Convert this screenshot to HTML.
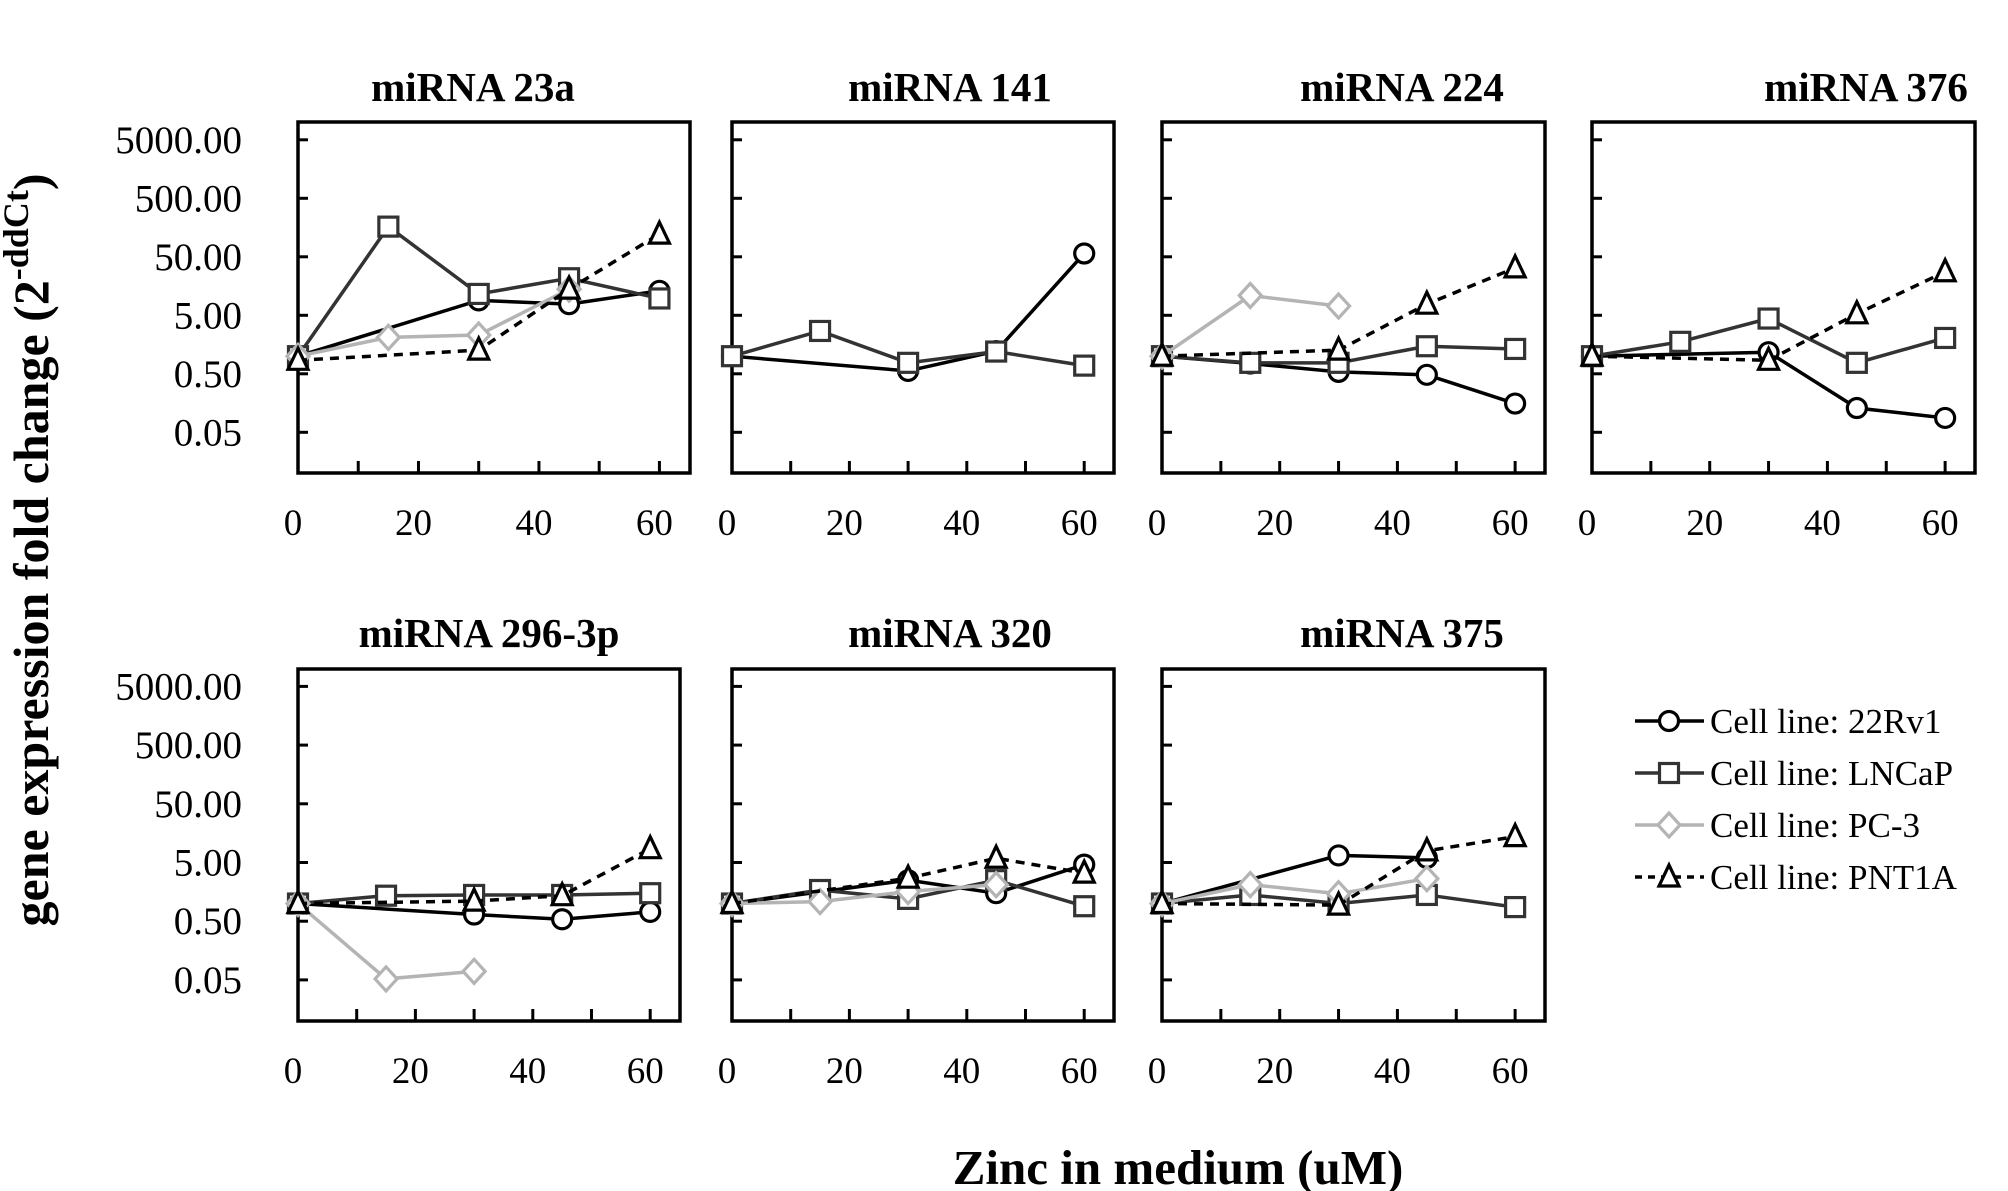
<!DOCTYPE html>
<html><head><meta charset="utf-8"><style>
html,body{margin:0;padding:0;background:#fff;}
svg{display:block;font-family:"Liberation Serif",serif;}
</style></head><body>
<svg id="chart" width="2008" height="1191" viewBox="0 0 2008 1191">
<text x="48" y="550" transform="rotate(-90 48 550)" text-anchor="middle" font-size="50" font-weight="bold">gene expression fold change (2<tspan dy="-20" font-size="36">-ddCt</tspan><tspan dy="20">)</tspan></text>
<text x="1178" y="1184" text-anchor="middle" font-size="49" font-weight="bold">Zinc in medium (uM)</text>
</svg>
<script>
const xTicks = [0, 20, 40, 60];
const yTicks = [5000, 500, 50, 5, 0.5, 0.05];
const yTickLabels = ["5000.00", "500.00", "50.00", "5.00", "0.50", "0.05"];
const zinc = [0, 15, 30, 45, 60];
const seriesNames = ["Cell line: 22Rv1", "Cell line: LNCaP", "Cell line: PC-3", "Cell line: PNT1A"];
const titles = ["miRNA 23a", "miRNA 141", "miRNA 224", "miRNA 376", "miRNA 296-3p", "miRNA 320", "miRNA 375"];
// values per panel: [22Rv1, LNCaP, PC-3, PNT1A]
const v22Rv1 = [
  [1, null, 9.0, 7.75, 13.1],
  [1, null, 0.56, 1.22, 57],
  [1, 0.75, 0.54, 0.48, 0.155],
  [1, null, 1.17, 0.13, 0.088],
  [1, null, 0.65, 0.54, 0.72],
  [1, null, 2.5, 1.5, 4.6],
  [1, null, 6.6, 6.0, null]
];
const vLNCaP = [
  [1, 164, 11.6, 21.5, 9.7],
  [1, 2.7, 0.77, 1.2, 0.69],
  [1, 0.77, 0.77, 1.48, 1.33],
  [1, 1.76, 4.4, 0.77, 2.05],
  [1, 1.36, 1.4, 1.4, 1.5],
  [1, 1.7, 1.2, 2.5, 0.9],
  [1, 1.4, 1.0, 1.4, 0.87]
];
const vPC3 = [
  [1, 2.1, 2.3, 14, null],
  [null, null, null, null, null],
  [1, 10.9, 7.2, null, null],
  [null, null, null, null, null],
  [1, 0.052, 0.07, null, null],
  [1, 1.08, 1.6, 2.1, null],
  [1, 2.1, 1.47, 2.65, null]
];
const vPNT1A = [
  [0.85, null, 1.27, 14, 122],
  [null, null, null, null, null],
  [1, null, 1.27, 7.75, 32.3],
  [1, null, 0.85, 5.3, 27.8],
  [1, null, 1.1, 1.36, 8.6],
  [1, null, 2.7, 5.9, 3.3],
  [1, null, 0.94, 7.9, 13.8]
];

const NS = "http://www.w3.org/2000/svg";
const svg = document.getElementById('chart');
function mk(tag, attrs, parent) {
  const e = document.createElementNS(NS, tag);
  for (const k in attrs) e.setAttribute(k, attrs[k]);
  (parent || svg).appendChild(e);
  return e;
}
const panels = [
  {l:298, r:690, t:122, b:473, y5:315.3, dec:58.5, tx:473, ty:101},
  {l:732, r:1114, t:122, b:473, y5:315.3, dec:58.5, tx:950, ty:101},
  {l:1162, r:1545, t:122, b:473, y5:315.3, dec:58.5, tx:1402, ty:101},
  {l:1592, r:1975, t:122, b:473, y5:315.3, dec:58.5, tx:1866, ty:101},
  {l:298, r:680, t:669, b:1021, y5:862.5, dec:58.7, tx:489, ty:647},
  {l:732, r:1114, t:669, b:1021, y5:862.5, dec:58.7, tx:950, ty:647},
  {l:1162, r:1545, t:669, b:1021, y5:862.5, dec:58.7, tx:1402, ty:647}
];
const styles = [
  {color:'#000', dash:null, marker:'circle'},
  {color:'#333', dash:null, marker:'square'},
  {color:'#b4b4b4', dash:null, marker:'diamond'},
  {color:'#000', dash:'9 7', marker:'triangle'}
];
function drawMarker(g, type, x, y, color) {
  let m;
  if (type === 'circle') m = mk('circle', {cx:x, cy:y, r:9.5}, g);
  else if (type === 'square') m = mk('rect', {x:x-9.5, y:y-9.5, width:19, height:19}, g);
  else if (type === 'diamond') m = mk('polygon', {points:`${x},${y-12} ${x+11},${y} ${x},${y+12} ${x-11},${y}`}, g);
  else m = mk('polygon', {points:`${x},${y-12} ${x+10},${y+9} ${x-10},${y+9}`}, g);
  m.setAttribute('fill', '#fff');
  m.setAttribute('stroke', color);
  m.setAttribute('stroke-width', '3.2');
  return m;
}
const allSeries = [v22Rv1, vLNCaP, vPC3, vPNT1A];
panels.forEach((p, pi) => {
  const g = mk('g', {});
  
  
  const w = p.r - p.l;
  const xs = v => p.l + (v / 60) * 0.922 * w;
  const ys = v => p.y5 - p.dec * Math.log10(v / 5);
  const title = mk('text', {x:p.tx, y:p.ty, 'text-anchor':'middle', 'font-size':'41', 'font-weight':'bold'}, g);
  title.textContent = titles[pi];
  
  
  const box = mk('rect', {x:p.l, y:p.t, width:w, height:p.b-p.t, fill:'none', stroke:'#000', 'stroke-width':'3.5'}, g);
  
  
  yTicks.forEach((t, i) => {
    const y = ys(t);
    mk('line', {x1:p.l, x2:p.l+10, y1:y, y2:y, stroke:'#000', 'stroke-width':'3'}, g);
    if (pi === 0 || pi === 4) {
      const lb = mk('text', {x:p.l-56, y:y+13, 'text-anchor':'end', 'font-size':'39'}, g);
      lb.textContent = yTickLabels[i];
      
      
    }
  });
  for (let v = 10; v <= 60; v += 10) {
    const x = xs(v);
    mk('line', {x1:x, x2:x, y1:p.b, y2:p.b-12, stroke:'#000', 'stroke-width':'3'}, g);
  }
  xTicks.forEach(t => {
    const lb = mk('text', {x:xs(t)-5, y:p.b+62, 'text-anchor':'middle', 'font-size':'37'}, g);
    lb.textContent = String(t);
    
    
  });
  allSeries.forEach((arr, si) => {
    const vals = arr[pi];
    const st = styles[si];
    const pts = [];
    vals.forEach((v, i) => { if (v !== null) pts.push([xs(zinc[i]), ys(v)]); });
    if (pts.length < 2) return;
    const line = mk('polyline', {points:pts.map(q => q.join(',')).join(' '), fill:'none', stroke:st.color, 'stroke-width':'3.5'}, g);
    if (st.dash) line.setAttribute('stroke-dasharray', st.dash);
    
    
    pts.forEach(q => {
      const m = drawMarker(g, st.marker, q[0], q[1], st.color);
      
      
    });
  });
});
// legend
const legY = [721, 773, 825, 877];
seriesNames.forEach((n, i) => {
  const g = mk('g', {});
  
  
  const st = styles[i];
  const ln = mk('line', {x1:1635, x2:1704, y1:legY[i], y2:legY[i], stroke:st.color, 'stroke-width':'3.5'}, g);
  if (st.dash) ln.setAttribute('stroke-dasharray', '7 6');
  drawMarker(g, st.marker, 1669, legY[i], st.color);
  const t = mk('text', {x:1710, y:legY[i]+12, 'font-size':'35'}, g);
  t.textContent = n;
});
</script>
</body></html>
